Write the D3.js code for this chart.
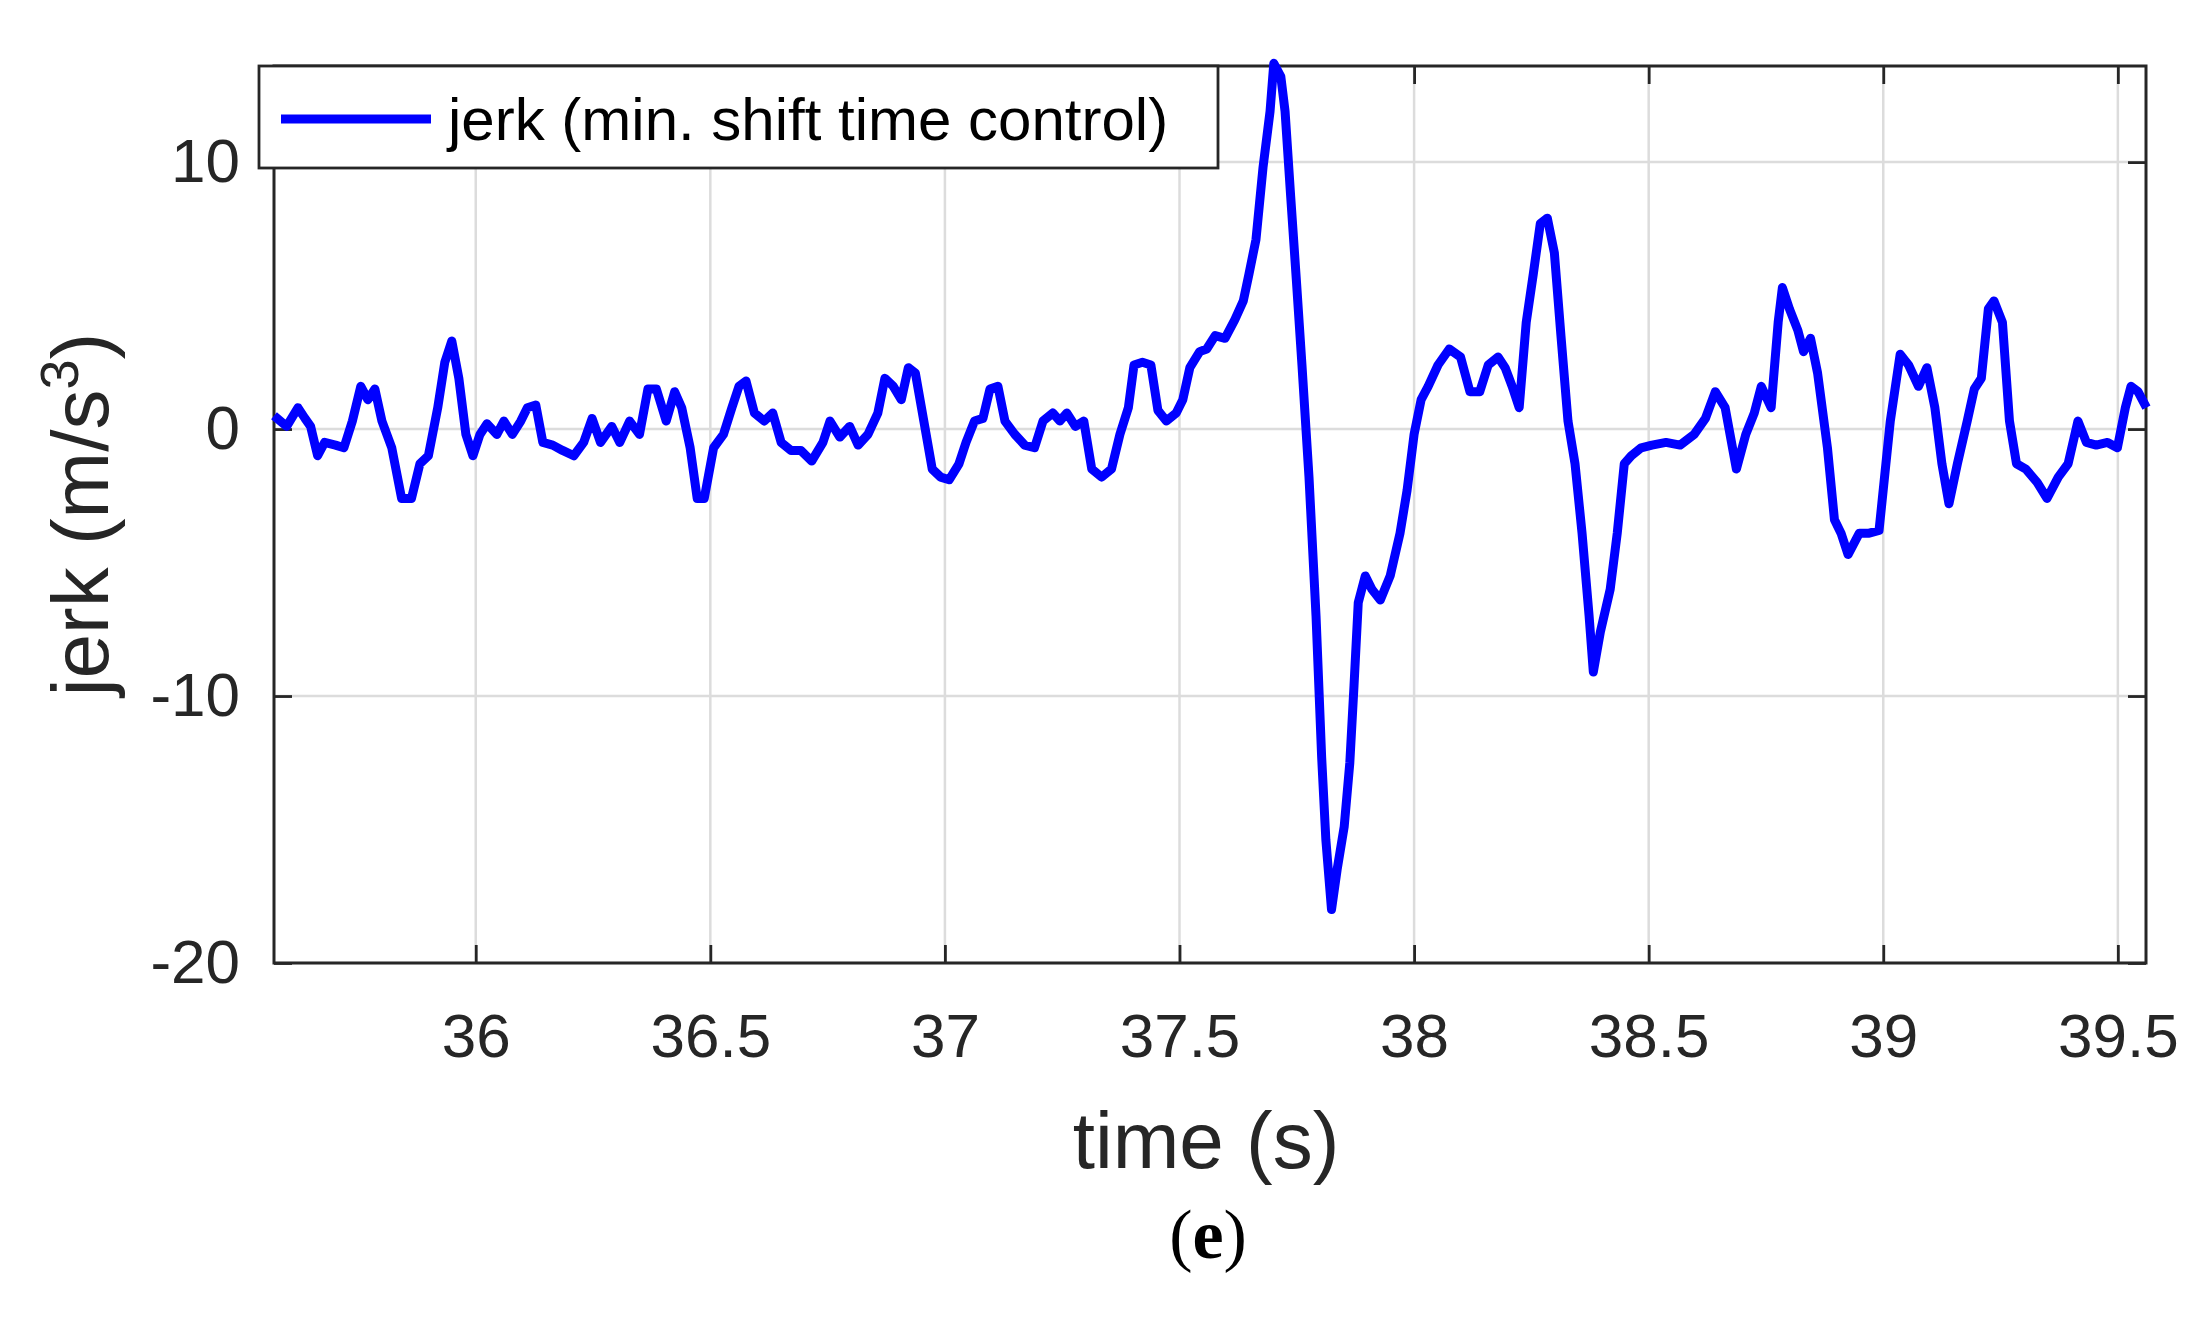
<!DOCTYPE html>
<html><head><meta charset="utf-8">
<script src="https://cdn.jsdelivr.net/npm/d3@7"></script>
<style>body{margin:0;background:#fff}svg{display:block}</style>
</head><body><svg id="chart"></svg>
<script>
// time (s)
const time = [35.570,35.597,35.621,35.636,35.648,35.663,35.678,35.701,35.719,35.737,35.755,35.770,35.785,35.800,35.821,35.842,35.863,35.881,35.899,35.919,35.934,35.949,35.964,35.979,35.994,36.009,36.024,36.045,36.060,36.078,36.096,36.110,36.128,36.143,36.164,36.185,36.209,36.230,36.248,36.266,36.290,36.307,36.328,36.349,36.367,36.385,36.406,36.424,36.439,36.457,36.472,36.487,36.507,36.528,36.546,36.561,36.576,36.594,36.615,36.633,36.651,36.672,36.693,36.716,36.740,36.755,36.776,36.797,36.815,36.836,36.857,36.872,36.890,36.907,36.922,36.937,36.955,36.973,36.991,37.009,37.030,37.045,37.063,37.081,37.096,37.113,37.128,37.149,37.170,37.191,37.209,37.230,37.245,37.260,37.278,37.296,37.313,37.334,37.355,37.373,37.391,37.403,37.421,37.439,37.454,37.472,37.493,37.507,37.522,37.543,37.558,37.576,37.597,37.618,37.636,37.648,37.663,37.678,37.693,37.701,37.716,37.725,37.737,37.749,37.761,37.776,37.791,37.803,37.812,37.824,37.836,37.851,37.863,37.872,37.881,37.896,37.910,37.928,37.949,37.970,37.985,38.000,38.015,38.030,38.051,38.075,38.099,38.119,38.140,38.158,38.179,38.194,38.209,38.224,38.239,38.254,38.269,38.284,38.299,38.313,38.328,38.343,38.358,38.373,38.382,38.397,38.418,38.433,38.448,38.463,38.484,38.507,38.537,38.567,38.597,38.621,38.642,38.663,38.687,38.707,38.725,38.740,38.761,38.776,38.785,38.800,38.818,38.830,38.845,38.860,38.881,38.896,38.910,38.925,38.949,38.970,38.991,39.015,39.036,39.054,39.075,39.093,39.110,39.125,39.140,39.158,39.179,39.194,39.209,39.224,39.236,39.254,39.269,39.284,39.304,39.328,39.349,39.373,39.394,39.415,39.433,39.454,39.478,39.499,39.516,39.528,39.543,39.561];
// jerk (m/s^3)
const jerk = [0.5,0.1,0.8,0.4,0.1,-1.0,-0.5,-0.6,-0.7,0.3,1.6,1.1,1.5,0.3,-0.7,-2.6,-2.6,-1.3,-1.0,0.8,2.5,3.3,1.9,-0.2,-1.0,-0.2,0.2,-0.2,0.3,-0.2,0.3,0.8,0.9,-0.5,-0.6,-0.8,-1.0,-0.5,0.4,-0.5,0.1,-0.5,0.3,-0.2,1.5,1.5,0.3,1.4,0.8,-0.7,-2.6,-2.6,-0.7,-0.2,0.8,1.6,1.8,0.6,0.3,0.6,-0.5,-0.8,-0.8,-1.2,-0.5,0.3,-0.3,0.1,-0.6,-0.2,0.6,1.9,1.6,1.1,2.3,2.1,0.3,-1.5,-1.8,-1.9,-1.3,-0.5,0.3,0.4,1.5,1.6,0.3,-0.2,-0.6,-0.7,0.3,0.6,0.3,0.6,0.1,0.3,-1.5,-1.8,-1.5,-0.2,0.8,2.4,2.5,2.4,0.7,0.3,0.6,1.1,2.3,2.9,3.0,3.5,3.4,4.1,4.8,5.8,7.1,9.8,11.9,13.7,13.2,11.9,8.7,5.6,2.4,-1.8,-7.0,-12.3,-15.4,-18.0,-16.5,-14.9,-12.5,-9.6,-6.5,-5.5,-6.0,-6.4,-5.5,-3.9,-2.3,-0.2,1.1,1.6,2.4,3.0,2.7,1.4,1.4,2.4,2.7,2.3,1.6,0.8,4.0,5.8,7.7,7.9,6.6,3.5,0.3,-1.3,-3.9,-7.0,-9.1,-7.6,-6.0,-3.9,-1.3,-1.0,-0.7,-0.6,-0.5,-0.6,-0.2,0.4,1.4,0.8,-1.5,-0.2,0.6,1.6,0.8,4.0,5.3,4.5,3.7,2.9,3.4,2.1,-0.7,-3.4,-3.9,-4.7,-3.9,-3.9,-3.8,0.3,2.8,2.4,1.6,2.3,0.8,-1.3,-2.8,-1.3,0.3,1.5,1.9,4.5,4.8,4.0,0.3,-1.3,-1.5,-2.0,-2.6,-1.8,-1.3,0.3,-0.5,-0.6,-0.5,-0.7,0.8,1.6,1.4,0.8];
const xTicks = [36, 36.5, 37, 37.5, 38, 38.5, 39, 39.5];
const yTicks = [-20, -10, 0, 10];
const xDomain = [35.57, 39.56];
const yDomain = [-20, 13.6];

const W = 2190, H = 1333;
const margin = {top: 66, right: 44, bottom: 370, left: 274};
const width = W - margin.left - margin.right;
const height = H - margin.top - margin.bottom;
const ink = '#262626';

const svg = d3.select('#chart').attr('width', W).attr('height', H)
  .style('font-family', '"Liberation Sans", Arial, sans-serif');
const chart = svg.append('g').attr('transform', `translate(${margin.left},${margin.top})`);

const x = d3.scaleLinear().domain(xDomain).range([0, width]);
const y = d3.scaleLinear().domain(yDomain).range([height, 0]);

// grid
chart.append('g').selectAll('line').data(xTicks).join('line')
  .attr('x1', d => x(d)).attr('x2', d => x(d)).attr('y1', 0).attr('y2', height)
  .attr('stroke', '#dcdcdc').attr('stroke-width', 2.5);
chart.append('g').selectAll('line').data(yTicks).join('line')
  .attr('y1', d => y(d)).attr('y2', d => y(d)).attr('x1', 0).attr('x2', width)
  .attr('stroke', '#dcdcdc').attr('stroke-width', 2.5);

// axes (inward ticks, box)
const tk = 18;
const fmt = d => String(d); // MATLAB uses a plain hyphen for minus
const xAxisG = chart.append('g').attr('transform', `translate(0,${height})`)
  .call(d3.axisBottom(x).tickValues(xTicks).tickSizeInner(-tk).tickSizeOuter(0).tickPadding(50).tickFormat(fmt));
const xTopG = chart.append('g')
  .call(d3.axisTop(x).tickValues(xTicks).tickSizeInner(-tk).tickSizeOuter(0).tickFormat(''));
const yAxisG = chart.append('g')
  .call(d3.axisLeft(y).tickValues(yTicks).tickSizeInner(-tk).tickSizeOuter(0).tickPadding(34).tickFormat(fmt));
const yRightG = chart.append('g').attr('transform', `translate(${width},0)`)
  .call(d3.axisRight(y).tickValues(yTicks).tickSizeInner(-tk).tickSizeOuter(0).tickFormat(''));
[xAxisG, xTopG, yAxisG, yRightG].forEach(g => {
  g.select('.domain').remove();
  g.selectAll('line').attr('stroke', ink).attr('stroke-width', 2.8);
  g.selectAll('text').attr('fill', ink).style('font-size', '62px');
});
chart.append('rect').attr('width', width).attr('height', height)
  .attr('fill', 'none').attr('stroke', ink).attr('stroke-width', 3);

// line
const pts = time.map((t, i) => [t, jerk[i]]);
chart.append('path').datum(pts)
  .attr('fill', 'none').attr('stroke', '#0000ff').attr('stroke-width', 9)
  .attr('stroke-linejoin', 'round')
  .attr('d', d3.line().x(d => x(d[0])).y(d => y(d[1])));

// legend
const leg = svg.append('g').attr('transform', 'translate(259,66)');
leg.append('rect').attr('width', 959).attr('height', 102)
  .attr('fill', '#fff').attr('stroke', ink).attr('stroke-width', 2.8);
leg.append('line').attr('x1', 22).attr('x2', 172).attr('y1', 53).attr('y2', 53)
  .attr('stroke', '#0000ff').attr('stroke-width', 9);
leg.append('text').attr('x', 189).attr('y', 74).attr('fill', '#000')
  .style('font-size', '60px').text('jerk (min. shift time control)');

// titles
svg.append('text').attr('x', margin.left + width / 2 - 4).attr('y', 1168)
  .attr('text-anchor', 'middle').attr('fill', ink).style('font-size', '80px').text('time (s)');
const yt = svg.append('text').attr('transform', `translate(108,${margin.top + height / 2}) rotate(-90)`)
  .attr('text-anchor', 'middle').attr('fill', ink).style('font-size', '80px');
yt.append('tspan').text('jerk (m/s');
yt.append('tspan').attr('dy', -30).style('font-size', '54px').text('3');
yt.append('tspan').attr('dy', 30).text(')');

const cap = svg.append('text').attr('x', margin.left + width / 2 - 2).attr('y', 1258)
  .attr('text-anchor', 'middle').attr('fill', '#000')
  .style('font-family', '"Liberation Serif", "Times New Roman", serif').style('font-size', '70px');
cap.append('tspan').text('(');
cap.append('tspan').style('font-weight', 'bold').text('e');
cap.append('tspan').text(')');
</script></body></html>
